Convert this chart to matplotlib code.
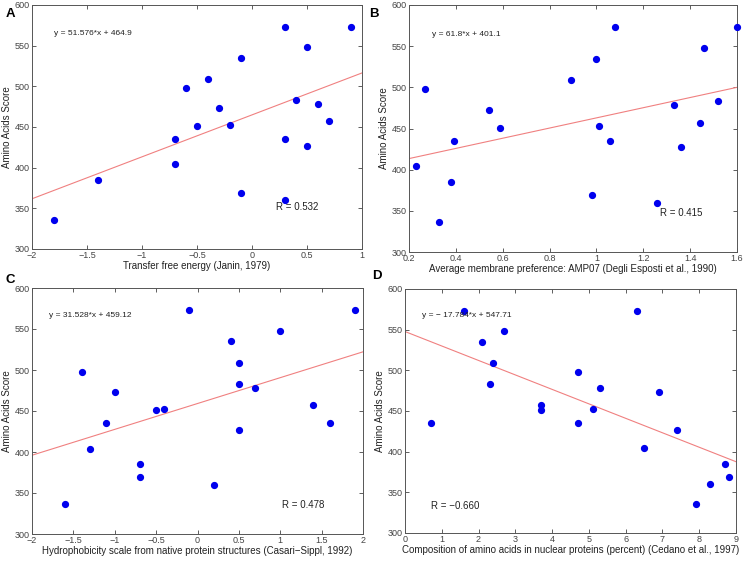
import matplotlib
matplotlib.use('Agg')
import matplotlib.pyplot as plt

plt.rcParams['font.family'] = ['Liberation Sans', 'DejaVu Sans']

# amino acid scores (y axis) and the property values (x axis) per panel
score_a = [336, 385, 435, 404, 498, 451, 509, 473, 453, 535, 369, 573, 435, 360, 483, 548, 427, 478, 457, 573]
x_a = [-1.8, -1.4, -0.7, -0.7, -0.6, -0.5, -0.4, -0.3, -0.2, -0.1, -0.1, 0.3, 0.3, 0.3, 0.4, 0.5, 0.5, 0.6, 0.7, 0.9]

score_b = [404, 498, 336, 385, 435, 473, 451, 509, 369, 535, 453, 435, 573, 360, 478, 427, 457, 548, 483, 573]
x_b = [0.23, 0.27, 0.33, 0.38, 0.39, 0.54, 0.59, 0.89, 0.98, 1.0, 1.01, 1.06, 1.08, 1.26, 1.33, 1.36, 1.44, 1.46, 1.52, 1.60]

score_c = [336, 498, 404, 435, 473, 385, 369, 451, 453, 573, 360, 535, 509, 483, 427, 478, 548, 457, 435, 573]
x_c = [-1.6, -1.4, -1.3, -1.1, -1.0, -0.7, -0.7, -0.5, -0.4, -0.1, 0.2, 0.4, 0.5, 0.5, 0.5, 0.7, 1.0, 1.4, 1.6, 1.9]

score_d = [435, 573, 535, 483, 509, 548, 457, 451, 498, 435, 453, 478, 573, 404, 473, 427, 336, 360, 385, 369]
x_d = [0.7, 1.6, 2.1, 2.3, 2.4, 2.7, 3.7, 3.7, 4.7, 4.7, 5.1, 5.3, 6.3, 6.5, 6.9, 7.4, 7.9, 8.3, 8.7, 8.8]

slopes = [51.576, 61.8, 31.528, -17.784]
intercepts = [464.9, 401.1, 459.12, 547.71]
eq_labels = ['y = 51.576*x + 464.9', 'y = 61.8*x + 401.1',
             'y = 31.528*x + 459.12', 'y = \u2212 17.784*x + 547.71']
r_labels = ['R = 0.532', 'R = 0.415', 'R = 0.478', 'R = \u22120.660']
xlabels = ['Transfer free energy (Janin, 1979)',
           'Average membrane preference: AMP07 (Degli Esposti et al., 1990)',
           'Hydrophobicity scale from native protein structures (Casari\u2212Sippl, 1992)',
           'Composition of amino acids in nuclear proteins (percent) (Cedano et al., 1997)']
panel_letters = ['A', 'B', 'C', 'D']
xlims = [(-2, 1), (0.2, 1.6), (-2, 2), (0, 9)]
xticks = [[-2, -1.5, -1, -0.5, 0, 0.5, 1],
          [0.2, 0.4, 0.6, 0.8, 1, 1.2, 1.4, 1.6],
          [-2, -1.5, -1, -0.5, 0, 0.5, 1, 1.5, 2],
          list(range(0, 10))]
eq_pos = [(-1.8, 565), (0.3, 564), (-1.8, 567), (0.45, 567)]
r_pos = [(0.22, 352), (1.27, 347), (1.02, 335), (0.7, 333)]

xs = [x_a, x_b, x_c, x_d]
ys = [score_a, score_b, score_c, score_d]

W, H = 747, 561
fig = plt.figure(figsize=(W / 100, H / 100), dpi=100)
# axes boxes in pixels: left, top, right, bottom
boxes = [(32, 5, 362, 249), (409, 5, 737, 252), (32, 288, 363, 534), (405, 289, 736, 533)]
letter_pos = [(10.5, 14), (374, 14), (10.5, 280), (377, 276)]

def fmt(v, pos):
    return ('%g' % v).replace('-', '\u2212')

for i in range(4):
    l, t, r, b = boxes[i]
    ax = fig.add_axes([l / W, 1 - b / H, (r - l) / W, (b - t) / H])
    x0, x1 = xlims[i]
    ax.plot([x0, x1], [slopes[i] * x0 + intercepts[i], slopes[i] * x1 + intercepts[i]],
            color='#f08080', lw=0.8)
    ax.plot(xs[i], ys[i], 'o', color='#0000ee', ms=4.2, mec='#0000ee', clip_on=False, zorder=3)
    ax.set_xlim(x0, x1)
    ax.set_ylim(300, 600)
    ax.set_xticks(xticks[i])
    ax.set_yticks(range(300, 601, 50))
    ax.xaxis.set_major_formatter(plt.FuncFormatter(fmt))
    ax.tick_params(direction='in', length=3, labelsize=6.5, top=True, right=True,
                   colors='#444444', width=0.6, pad=1.5)
    for s in ax.spines.values():
        s.set_linewidth(0.7)
        s.set_color('#555555')
    ax.set_xlabel(xlabels[i], fontsize=7, labelpad=1, color='#222222')
    ax.set_ylabel('Amino Acids Score', fontsize=7, labelpad=2, color='#222222')
    ax.text(eq_pos[i][0], eq_pos[i][1], eq_labels[i], fontsize=6, va='center', color='#222222')
    ax.text(r_pos[i][0], r_pos[i][1], r_labels[i], fontsize=7, va='center', color='#222222')
    fig.text(letter_pos[i][0] / W, 1 - letter_pos[i][1] / H, panel_letters[i],
             fontsize=9.5, fontweight='bold', ha='center', va='center')

fig.savefig('out.png', dpi=100)
